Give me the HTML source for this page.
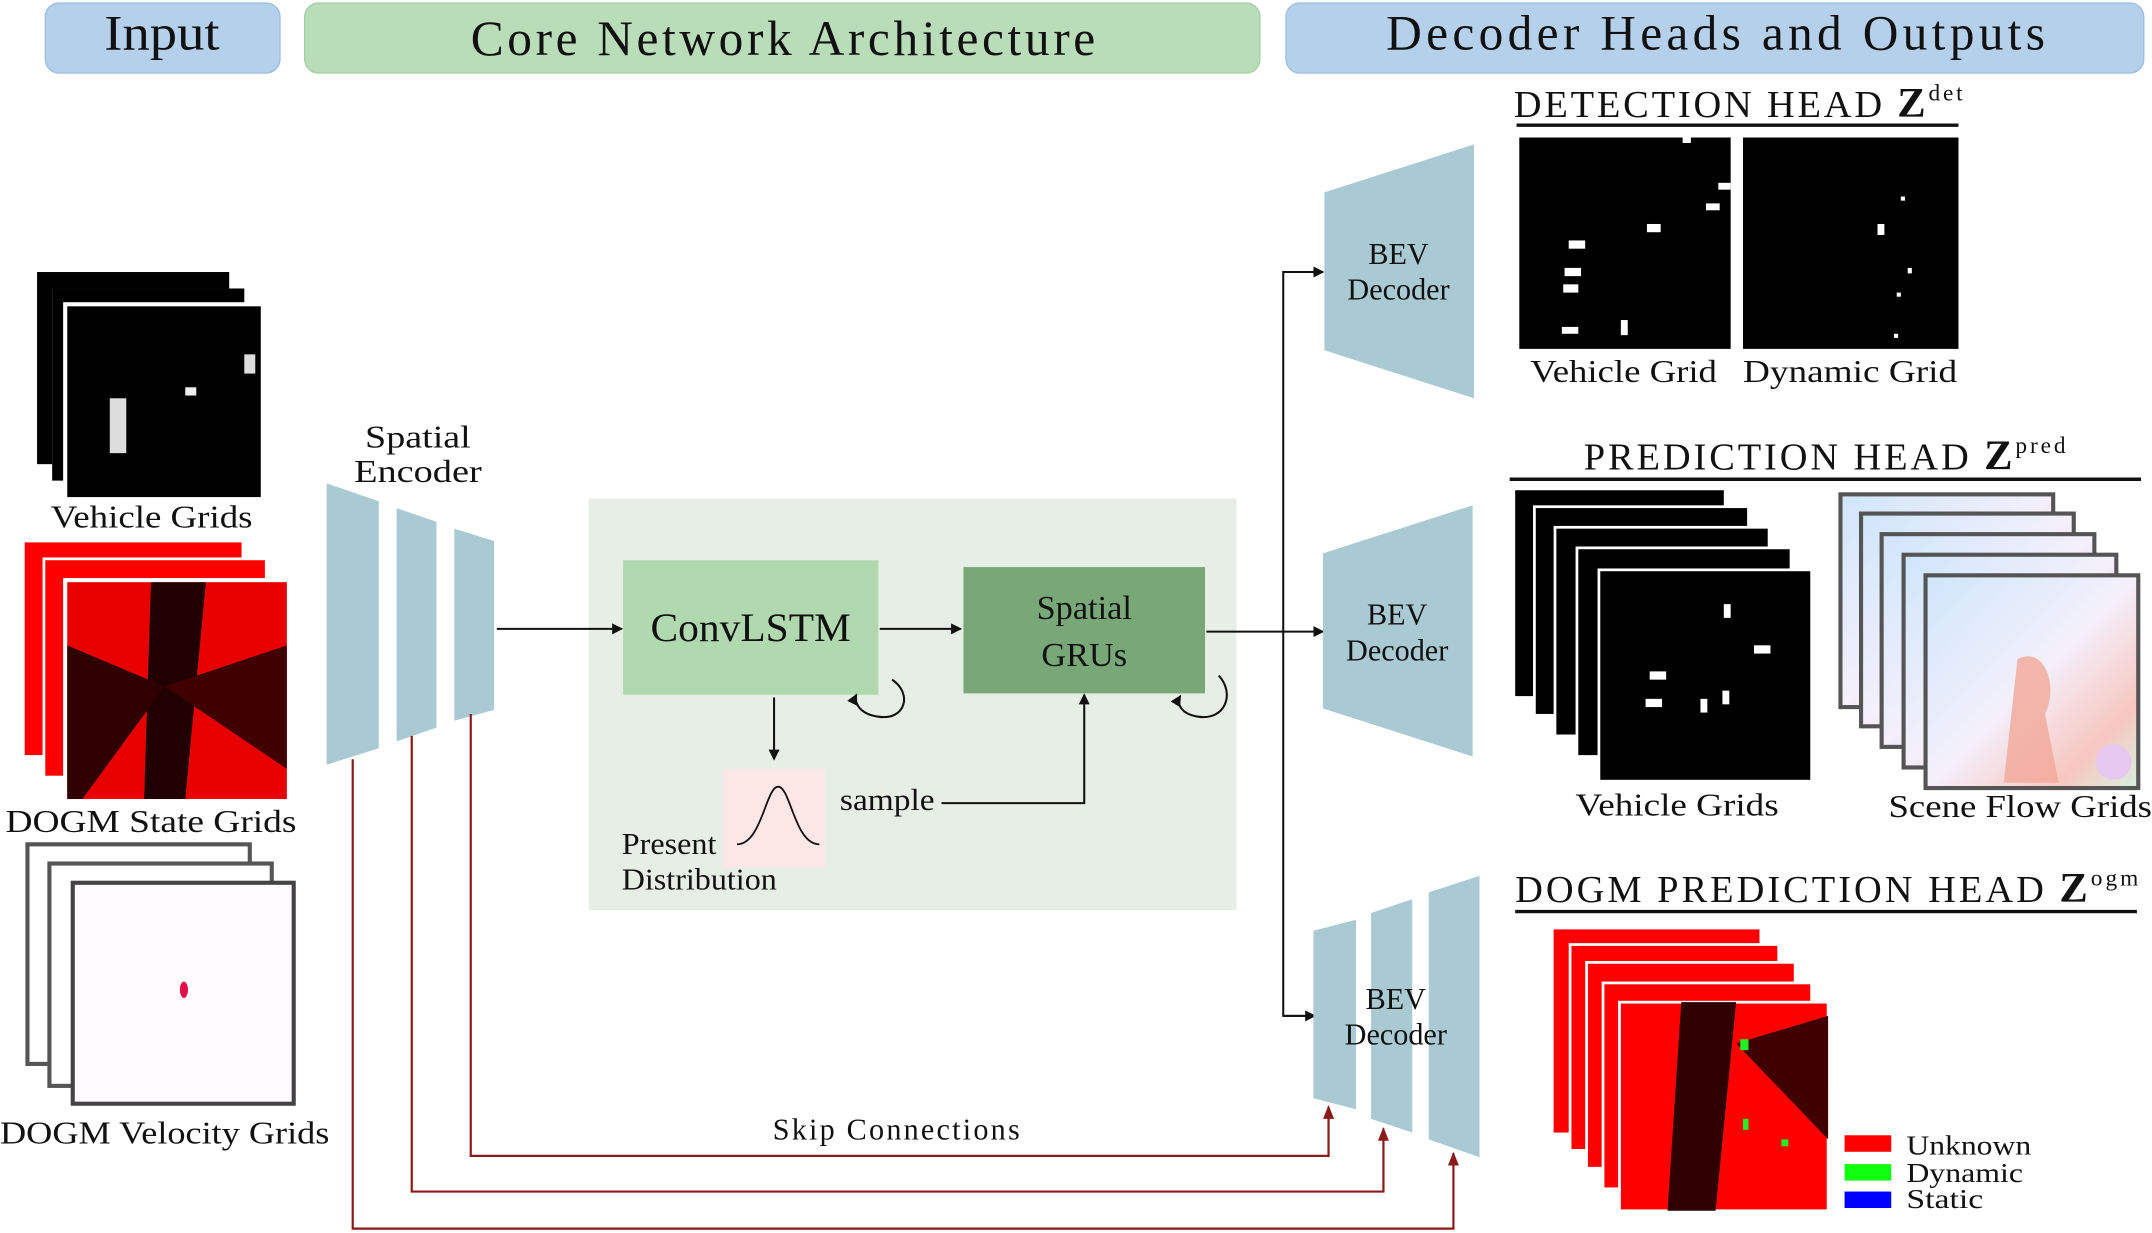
<!DOCTYPE html>
<html><head><meta charset="utf-8"><style>
html,body{margin:0;padding:0;background:#fff;width:2152px;height:1233px;overflow:hidden}
text{font-family:"Liberation Serif",serif;fill:#111}
</style></head><body>
<svg width="2152" height="1233" viewBox="0 0 1568 898" xmlns="http://www.w3.org/2000/svg">
<defs>
<marker id="a" markerWidth="8" markerHeight="8" refX="7" refY="4" orient="auto" markerUnits="userSpaceOnUse"><path d="M0,0 L8,4 L0,8 z" fill="#111"/></marker>
<marker id="r" markerWidth="10" markerHeight="8" refX="9" refY="4" orient="auto" markerUnits="userSpaceOnUse"><path d="M0,0 L10,4 L0,8 z" fill="#8b1a1a"/></marker>
<linearGradient id="fl" x1="0" y1="0" x2="1" y2="1"><stop offset="0" stop-color="#cfe6fb"/><stop offset=".5" stop-color="#f4f0fb"/><stop offset=".8" stop-color="#f7c7c0"/><stop offset="1" stop-color="#d8f0e0"/></linearGradient>
</defs>
<!-- headers -->
<rect x="33" y="2" width="171" height="51" rx="10" fill="#b4d0ea" stroke="#a0c0e0"/>
<text x="76" y="36" font-size="36" textLength="84" lengthAdjust="spacingAndGlyphs">Input</text>
<rect x="222" y="2" width="696" height="51" rx="10" fill="#b9dcb9" stroke="#a8d0a8"/>
<text x="343" y="40" font-size="36" textLength="455" lengthAdjust="spacing">Core Network Architecture</text>
<rect x="937" y="2" width="625" height="51" rx="10" fill="#b4d0ea" stroke="#a0c0e0"/>
<text x="1010" y="36" font-size="36" textLength="480" lengthAdjust="spacing">Decoder Heads and Outputs</text>

<!-- input vehicle grids -->
<rect x="27" y="198" width="140" height="140" fill="#000"/>
<rect x="38" y="210" width="140" height="140" fill="#fff"/><rect x="38" y="210" width="140" height="140" fill="#000"/>
<rect x="46" y="220" width="146" height="144" fill="#fff"/><rect x="49" y="223" width="141" height="139" fill="#000"/>
<rect x="80" y="290" width="12" height="40" fill="#ddd"/><rect x="135" y="282" width="8" height="6" fill="#eee"/><rect x="178" y="258" width="8" height="14" fill="#ddd"/>
<text x="37" y="384" font-size="23" textLength="147" lengthAdjust="spacingAndGlyphs">Vehicle Grids</text>
<!-- DOGM state -->
<rect x="18" y="395" width="158" height="155" fill="#f00"/>
<rect x="31" y="406" width="164" height="160" fill="#fff"/><rect x="33" y="408" width="160" height="157" fill="#f00"/>
<rect x="46" y="421" width="166" height="164" fill="#fff"/><rect x="49" y="424" width="160" height="158" fill="#e80000"/>
<polygon points="110,424 150,424 135,582 105,582" fill="#200000"/>
<polygon points="49,470 120,500 60,582 49,582" fill="#300000"/>
<polygon points="120,500 209,470 209,560" fill="#400000"/>
<text x="4" y="606" font-size="23" textLength="212" lengthAdjust="spacingAndGlyphs">DOGM State Grids</text>
<!-- velocity -->
<rect x="20" y="615" width="162" height="160" fill="#fff" stroke="#555" stroke-width="3"/>
<rect x="36" y="629" width="162" height="162" fill="#fff" stroke="#555" stroke-width="3"/>
<rect x="53" y="643" width="161" height="161" fill="#fdfbfd" stroke="#444" stroke-width="3"/>
<ellipse cx="134" cy="721" rx="3" ry="6" fill="#e0104a"/>
<text x="0" y="833" font-size="23" textLength="240" lengthAdjust="spacingAndGlyphs">DOGM Velocity Grids</text>

<!-- encoder -->
<text x="266" y="326" font-size="23" textLength="77" lengthAdjust="spacingAndGlyphs">Spatial</text>
<text x="258" y="351" font-size="23" textLength="93" lengthAdjust="spacingAndGlyphs">Encoder</text>
<polygon points="238,352 276,365 276,545 238,557" fill="#a9cad2"/>
<polygon points="289,370 318,380 318,530 289,540" fill="#a9cad2"/>
<polygon points="331,385 360,394 360,517 331,525" fill="#a9cad2"/>

<!-- core -->
<rect x="429" y="363" width="472" height="300" fill="#e7eee5"/>
<rect x="454" y="408" width="186" height="98" fill="#b0d9b0"/>
<text x="474" y="467" font-size="29" textLength="146" lengthAdjust="spacingAndGlyphs">ConvLSTM</text>
<rect x="702" y="413" width="176" height="92" fill="#78a878"/>
<text x="790" y="451" font-size="25" text-anchor="middle">Spatial</text>
<text x="790" y="485" font-size="25" text-anchor="middle">GRUs</text>
<rect x="527" y="560" width="74" height="72" fill="#fde6e6"/>
<path d="M537,615 C555,615 558,573 567,573 C576,573 579,615 597,615" fill="none" stroke="#111" stroke-width="1.3"/>
<text x="453" y="622" font-size="22" textLength="69" lengthAdjust="spacingAndGlyphs">Present</text>
<text x="453" y="648" font-size="22" textLength="113" lengthAdjust="spacingAndGlyphs">Distribution</text>
<text x="612" y="590" font-size="22" textLength="69" lengthAdjust="spacingAndGlyphs">sample</text>
<line x1="362" y1="458" x2="453" y2="458" stroke="#111" stroke-width="1.5" marker-end="url(#a)"/>
<line x1="641" y1="458" x2="700" y2="458" stroke="#111" stroke-width="1.5" marker-end="url(#a)"/>
<line x1="564" y1="508" x2="564" y2="553" stroke="#111" stroke-width="1.5" marker-end="url(#a)"/>
<polyline points="686,585 790,585 790,506" fill="none" stroke="#111" stroke-width="1.5" marker-end="url(#a)"/>
<path d="M650,495 C665,505 660,525 640,522 C625,520 622,510 624,506" fill="none" stroke="#111" stroke-width="1.5" marker-end="url(#a)"/>
<path d="M888,492 C900,505 893,525 873,522 C860,520 857,512 860,507" fill="none" stroke="#111" stroke-width="1.5" marker-end="url(#a)"/>
<line x1="879" y1="460" x2="964" y2="460" stroke="#111" stroke-width="1.5" marker-end="url(#a)"/>
<polyline points="960,198 935,198 935,740 958,740" fill="none" stroke="#111" stroke-width="1.5"/>
<line x1="935" y1="198" x2="964" y2="198" stroke="#111" stroke-width="1.5" marker-end="url(#a)"/>
<line x1="935" y1="740" x2="958" y2="740" stroke="#111" stroke-width="1.5" marker-end="url(#a)"/>

<!-- decoders -->
<polygon points="965,140 1074,105 1074,290 965,255" fill="#a9cad2"/>
<text x="1019" y="192" font-size="22" text-anchor="middle">BEV</text>
<text x="1019" y="218" font-size="22" text-anchor="middle">Decoder</text>
<polygon points="964,403 1073,368 1073,551 964,516" fill="#a9cad2"/>
<text x="1018" y="455" font-size="22" text-anchor="middle">BEV</text>
<text x="1018" y="481" font-size="22" text-anchor="middle">Decoder</text>
<polygon points="957,678 988,670 988,808 957,800" fill="#a9cad2"/>
<polygon points="999,665 1029,655 1029,825 999,815" fill="#a9cad2"/>
<polygon points="1041,650 1078,638 1078,843 1041,830" fill="#a9cad2"/>
<text x="1017" y="735" font-size="22" text-anchor="middle">BEV</text>
<text x="1017" y="761" font-size="22" text-anchor="middle">Decoder</text>

<!-- skip connections -->
<g fill="none" stroke="#8b1a1a" stroke-width="1.6">
<polyline points="343,520 343,842 968,842 968,806" marker-end="url(#r)"/>
<polyline points="300,536 300,868 1008,868 1008,822" marker-end="url(#r)"/>
<polyline points="257,553 257,895 1059,895 1059,840" marker-end="url(#r)"/>
</g>
<text x="563" y="830" font-size="22" textLength="180" lengthAdjust="spacing">Skip Connections</text>

<!-- detection head -->
<text x="1103" y="85" font-size="28" textLength="327" lengthAdjust="spacing">DETECTION HEAD <tspan font-weight="bold" font-size="31">Z</tspan><tspan font-size="17" dy="-12">det</tspan></text>
<line x1="1105" y1="91" x2="1427" y2="91" stroke="#111" stroke-width="2.5"/>
<rect x="1107" y="100" width="154" height="154" fill="#000"/>
<rect x="1270" y="100" width="157" height="154" fill="#000"/>
<g fill="#fff"><rect x="1143" y="175" width="12" height="6"/><rect x="1140" y="195" width="12" height="6"/><rect x="1139" y="207" width="11" height="6"/><rect x="1138" y="238" width="12" height="5"/><rect x="1181" y="233" width="5" height="11"/><rect x="1200" y="163" width="10" height="6"/><rect x="1243" y="148" width="10" height="5"/><rect x="1252" y="133" width="9" height="5"/><rect x="1226" y="100" width="6" height="4"/>
<rect x="1368" y="163" width="5" height="8"/><rect x="1385" y="143" width="3" height="3"/><rect x="1390" y="195" width="3" height="4"/><rect x="1382" y="213" width="3" height="3"/><rect x="1380" y="243" width="3" height="3"/></g>
<text x="1115" y="278" font-size="23" textLength="136" lengthAdjust="spacingAndGlyphs">Vehicle Grid</text>
<text x="1270" y="278" font-size="23" textLength="156" lengthAdjust="spacingAndGlyphs">Dynamic Grid</text>

<!-- prediction head -->
<text x="1154" y="342" font-size="28" textLength="351" lengthAdjust="spacing">PREDICTION HEAD <tspan font-weight="bold" font-size="31">Z</tspan><tspan font-size="17" dy="-12">pred</tspan></text>
<line x1="1100" y1="349" x2="1560" y2="349" stroke="#111" stroke-width="2.5"/>
<g stroke="#fff" stroke-width="2" fill="#000">
<rect x="1103" y="356" width="154" height="152"/><rect x="1118" y="369" width="156" height="152"/><rect x="1133" y="384" width="156" height="152"/><rect x="1149" y="399" width="156" height="152"/><rect x="1165" y="415" width="155" height="154"/></g>
<g fill="#fff"><rect x="1202" y="489" width="12" height="6"/><rect x="1199" y="509" width="12" height="6"/><rect x="1239" y="509" width="5" height="10"/><rect x="1255" y="503" width="5" height="10"/><rect x="1278" y="470" width="12" height="6"/><rect x="1256" y="440" width="5" height="10"/></g>
<text x="1148" y="594" font-size="23" textLength="148" lengthAdjust="spacingAndGlyphs">Vehicle Grids</text>
<g stroke="#555" stroke-width="3" fill="url(#fl)">
<rect x="1341" y="360" width="155" height="155"/><rect x="1356" y="374" width="155" height="155"/><rect x="1371" y="389" width="155" height="155"/><rect x="1387" y="404" width="155" height="155"/><rect x="1403" y="419" width="155" height="155"/></g>
<path d="M1470,480 C1490,470 1500,500 1490,520 L1500,570 L1460,570 Z" fill="#f2a898" opacity=".8"/>
<circle cx="1540" cy="555" r="13" fill="#e6c8f0"/>
<text x="1376" y="595" font-size="23" textLength="192" lengthAdjust="spacingAndGlyphs">Scene Flow Grids</text>

<!-- DOGM prediction head -->
<text x="1104" y="657" font-size="28" textLength="454" lengthAdjust="spacing">DOGM PREDICTION HEAD <tspan font-weight="bold" font-size="31">Z</tspan><tspan font-size="17" dy="-12">ogm</tspan></text>
<line x1="1104" y1="664" x2="1557" y2="664" stroke="#111" stroke-width="2.5"/>
<g stroke="#fff" stroke-width="2" fill="#f00">
<rect x="1131" y="676" width="152" height="150"/><rect x="1144" y="688" width="152" height="150"/><rect x="1156" y="701" width="152" height="150"/><rect x="1168" y="716" width="152" height="150"/><rect x="1180" y="730" width="152" height="152"/></g>
<polygon points="1225,730 1265,730 1250,882 1215,882" fill="#300000"/>
<polygon points="1265,760 1332,740 1332,830" fill="#400000"/>
<rect x="1268" y="757" width="6" height="8" fill="#2e2"/><rect x="1298" y="830" width="5" height="5" fill="#2e2"/><rect x="1270" y="815" width="4" height="8" fill="#2e2"/>
<rect x="1344" y="827" width="34" height="12" fill="#f00"/><text x="1389" y="841" font-size="20" textLength="91" lengthAdjust="spacingAndGlyphs">Unknown</text>
<rect x="1344" y="848" width="34" height="12" fill="#1f1"/><text x="1389" y="861" font-size="20" textLength="85" lengthAdjust="spacingAndGlyphs">Dynamic</text>
<rect x="1344" y="868" width="34" height="12" fill="#00f"/><text x="1389" y="880" font-size="20" textLength="56" lengthAdjust="spacingAndGlyphs">Static</text>
</svg>
</body></html>
